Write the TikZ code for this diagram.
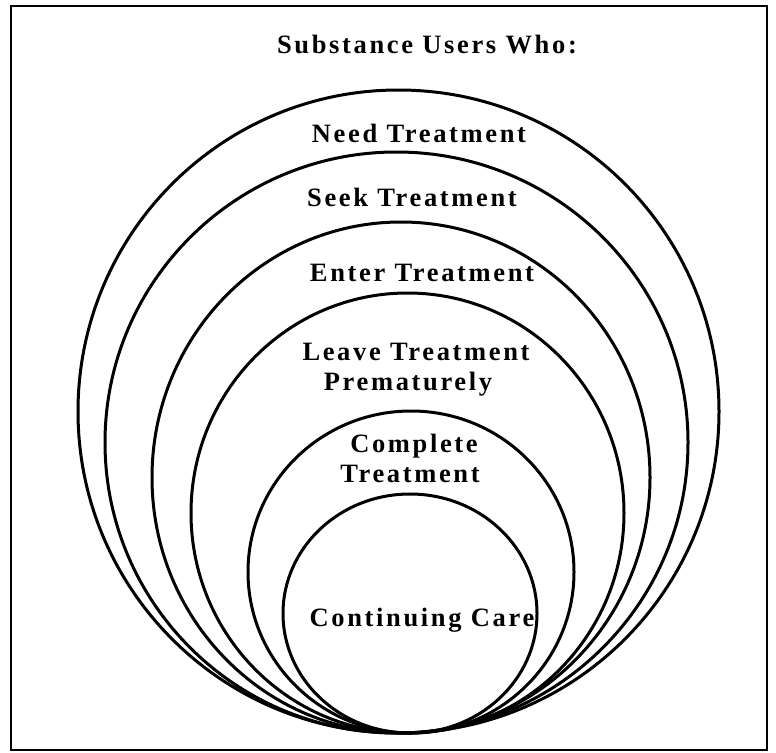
\documentclass[tikz,border=0pt]{standalone}
\usepackage{fontspec}
\newfontfamily\lblfont{Liberation Serif}[LetterSpace=10]
\begin{document}
\begin{tikzpicture}[x=1pt,y=-1pt,
  ring/.style={draw=black,line width=3pt},
  lbl/.style={inner sep=0pt,anchor=base,font=\lblfont\bfseries\fontsize{26.5}{30}\selectfont}]
\useasboundingbox (0,0) rectangle (776,752);
\draw[line width=1.8pt] (11,6) rectangle (767,750);
% nested rings, all touching near the bottom
\draw[ring] (398.5,411.5) ellipse [x radius=320.5pt, y radius=321.5pt];
\draw[ring] (396.5,442.5) ellipse [x radius=291.5pt, y radius=290.5pt];
\draw[ring] (401,477.5) ellipse [x radius=249pt, y radius=255.5pt];
\draw[ring] (407.5,513) ellipse [x radius=216.5pt, y radius=220pt];
\draw[ring] (411,572) ellipse [x radius=163pt, y radius=161pt];
\draw[ring] (410,613.5) ellipse [x radius=127pt, y radius=119.5pt];
% labels
\node[lbl] (title) at (427,54) {Substance Users Who:};
\node[lbl] (need) at (419,142.5) {Need Treatment};
\node[lbl] (seek) at (412,206) {Seek Treatment};
\node[lbl] (enter) at (422,281) {Enter Treatment};
\node[lbl] (leave1) at (416,360) {Leave Treatment};
\node[lbl] (leave2) at (408,390) {Prematurely};
\node[lbl] (comp1) at (414,452) {Complete};
\node[lbl] (comp2) at (410,482) {Treatment};
\node[lbl] (care) at (422,626) {Continuing Care};
\end{tikzpicture}
\end{document}
